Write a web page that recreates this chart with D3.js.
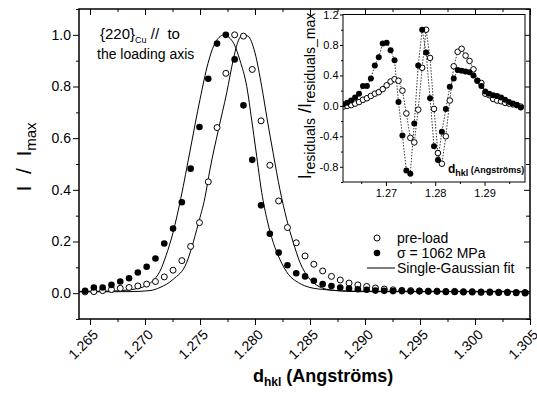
<!DOCTYPE html>
<html><head><meta charset="utf-8">
<script src="https://cdn.jsdelivr.net/npm/d3@7"></script>
<style>
body{margin:0;background:#fff}
svg{display:block}
text{font-family:Arial,"Liberation Sans",sans-serif;fill:#000;white-space:pre}
</style>
</head><body><svg id="c" width="537" height="393"></svg>
<script>
// ---------- data ----------
const dMain=[1.26455,1.26535,1.26615,1.26695,1.26775,1.26855,1.26935,1.27015,1.27095,1.27175,
1.27255,1.27335,1.27415,1.27495,1.27575,1.27655,1.27735,1.27815,1.27895,1.27975,
1.28055,1.28135,1.28215,1.28295,1.28375,1.28455,1.28535,1.28615,1.28695,1.28775,
1.28855,1.28935,1.29015,1.29095,1.29175,1.29255,1.29335,1.29415,1.29495,1.29575,
1.29655,1.29735,1.29815,1.29895,1.29975,1.30055,1.30135,1.30215,1.30295,1.30375,1.30455];
const preLoad=[0.005,0.006,0.010,0.014,0.019,0.022,0.028,0.035,0.045,0.063,
0.089,0.126,0.181,0.273,0.431,0.641,0.851,1.0,0.995,0.866,
0.667,0.495,0.357,0.254,0.195,0.144,0.112,0.086,0.065,0.051,
0.039,0.032,0.026,0.020,0.016,0.013,0.011,0.010,0.009,0.008,
0.008,0.007,0.007,0.006,0.006,0.005,0.005,0.004,0.004,0.003,0.003];
const loaded1062=[0.009,0.022,0.022,0.032,0.045,0.058,0.080,0.102,0.134,0.192,
0.250,0.352,0.482,0.643,0.830,0.966,1.0,0.905,0.727,0.516,
0.340,0.230,0.157,0.108,0.077,0.065,0.048,0.035,0.028,0.022,
0.018,0.015,0.013,0.010,0.009,0.008,0.008,0.007,0.007,0.006,
0.006,0.005,0.005,0.004,0.004,0.003,0.003,0.002,0.002,0.001,0.000];
const fitLoadedD=[1.2640,1.26682,1.26818,1.26909,1.27000,1.27064,1.27136,1.27191,1.27255,1.27327,
1.27409,1.27500,1.27573,1.27627,1.27673,1.27718,1.27764,1.27809,1.27864,1.27925,
1.27970,1.28009,1.28061,1.28112,1.28166,1.28227,1.28303,1.28394,1.28500,1.28652,
1.28864,1.29318,1.3050];
const fitLoadedV=[0.007,0.008,0.011,0.016,0.027,0.045,0.085,0.145,0.235,0.37,
0.55,0.75,0.89,0.96,0.99,1.0,0.99,0.965,0.9,0.80,
0.67,0.55,0.39,0.28,0.196,0.13,0.073,0.041,0.022,0.013,
0.008,0.007,0.007];
const fitPreD=[1.2640,1.26864,1.27045,1.27136,1.27257,1.27379,1.27427,1.27485,1.27545,1.27591,
1.27666,1.27743,1.27803,1.27848,1.27891,1.27936,1.28000,1.28061,1.28112,1.28166,
1.28227,1.28288,1.28348,1.28409,1.28485,1.28561,1.28652,1.28773,1.28955,1.3050];
const fitPreV=[0.005,0.006,0.010,0.022,0.054,0.119,0.18,0.27,0.37,0.48,
0.63,0.776,0.905,0.977,1.0,0.995,0.93,0.80,0.67,0.54,
0.40,0.286,0.196,0.119,0.061,0.031,0.015,0.009,0.006,0.005];
const dResid=[1.26135,1.26215,1.26295,1.26375,1.26455,1.26535,1.26615,1.26695,1.26775,1.26855,
1.26935,1.27015,1.27095,1.27175,1.27255,1.27335,1.27415,1.27495,1.27575,1.27655,
1.27735,1.27815,1.27895,1.27975,1.28055,1.28135,1.28215,1.28295,1.28375,1.28455,
1.28535,1.28615,1.28695,1.28775,1.28855,1.28935,1.29015,1.29095,1.29175,1.29255,
1.29335,1.29415,1.29495,1.29575,1.29655,1.29735];
const residPre=[-0.01,0.00,0.01,0.03,0.05,0.08,0.10,0.13,0.16,0.18,
0.22,0.27,0.32,0.35,0.33,0.20,-0.10,-0.42,-0.48,-0.05,
0.50,1.0,0.63,-0.04,-0.62,-0.76,-0.40,0.07,0.52,0.71,
0.75,0.66,0.59,0.48,0.33,0.30,0.16,0.14,0.09,0.07,
0.06,0.04,0.03,0.02,0.01,-0.01];
const residLoaded=[0.02,0.04,0.07,0.11,0.16,0.26,0.26,0.36,0.53,0.64,
0.82,0.83,0.73,0.60,0.05,-0.39,-0.85,-0.89,-0.23,0.53,
1.0,0.70,0.10,-0.53,-0.71,-0.34,-0.04,0.25,0.36,0.47,
0.46,0.45,0.44,0.40,0.33,0.26,0.19,0.16,0.14,0.13,
0.11,0.08,0.05,0.03,0.01,-0.02];
const xTicksMain=[1.265,1.270,1.275,1.280,1.285,1.290,1.295,1.300,1.305];
const xMinorMain=[1.2675,1.2725,1.2775,1.2825,1.2875,1.2925,1.2975,1.3025];
const yTicksMain=[0,0.2,0.4,0.6,0.8,1.0];
const yMinorMain=[-0.1,0.1,0.3,0.5,0.7,0.9,1.1];
const xTicksInset=[1.27,1.28,1.29];
const xMinorInset=[1.265,1.275,1.285,1.295];
const yTicksInset=[-0.8,-0.4,0,0.4,0.8,1.2];
const yMinorInset=[-1.0,-0.6,-0.2,0.2,0.6,1.0];
const legendLabels=["pre-load","\u03c3 = 1062 MPa","Single-Gaussian fit"];

// ---------- main chart ----------
const svg=d3.select("#c");
const L=79,R=530,T=9,B=319;
const x=d3.scaleLinear().domain([1.264,1.305]).range([L,R]);
const y=d3.scaleLinear().domain([-0.1,1.1]).range([B,T]);

svg.append("defs").append("clipPath").attr("id","clipMain")
  .append("rect").attr("x",L).attr("y",T).attr("width",R-L).attr("height",B-T);

function styleAxis(g,fs){
  g.attr("font-family",null).attr("font-size",null);
  g.select(".domain").remove();
  g.selectAll("line").attr("stroke","#000").attr("stroke-width",1);
  g.selectAll("text").style("font-size",fs+"px");
}
// bottom
svg.append("g").attr("transform",`translate(0,${B})`)
  .call(d3.axisBottom(x).tickValues(xTicksMain).tickSize(6).tickFormat(d3.format(".3f")))
  .call(g=>styleAxis(g,14))
  .call(g=>g.selectAll("text").attr("x",0).attr("y",0).attr("dy","0.35em")
      .attr("text-anchor","end").attr("transform","translate(5,13) rotate(-45)"));
svg.append("g").attr("transform",`translate(0,${B})`)
  .call(d3.axisBottom(x).tickValues(xMinorMain).tickSize(3).tickFormat(""))
  .call(g=>styleAxis(g,14));
// top (inward)
svg.append("g").attr("transform",`translate(0,${T})`)
  .call(d3.axisTop(x).tickValues(xTicksMain).tickSize(-6).tickFormat(""))
  .call(g=>styleAxis(g,14));
svg.append("g").attr("transform",`translate(0,${T})`)
  .call(d3.axisTop(x).tickValues(xMinorMain).tickSize(-3).tickFormat(""))
  .call(g=>styleAxis(g,14));
// left
svg.append("g").attr("transform",`translate(${L},0)`)
  .call(d3.axisLeft(y).tickValues(yTicksMain).tickSize(6).tickPadding(2).tickFormat(d3.format(".1f")))
  .call(g=>styleAxis(g,14));
svg.append("g").attr("transform",`translate(${L},0)`)
  .call(d3.axisLeft(y).tickValues(yMinorMain).tickSize(3).tickFormat(""))
  .call(g=>styleAxis(g,14));
// right (inward)
svg.append("g").attr("transform",`translate(${R},0)`)
  .call(d3.axisRight(y).tickValues(yTicksMain).tickSize(-6).tickFormat(""))
  .call(g=>styleAxis(g,14));
svg.append("g").attr("transform",`translate(${R},0)`)
  .call(d3.axisRight(y).tickValues(yMinorMain).tickSize(-4).tickFormat(""))
  .call(g=>styleAxis(g,14));

svg.append("rect").attr("x",L).attr("y",T).attr("width",R-L).attr("height",B-T)
  .attr("fill","none").attr("stroke","#000").attr("stroke-width",1.5);

const plot=svg.append("g").attr("clip-path","url(#clipMain)");
const line=d3.line().x(d=>x(d[0])).y(d=>y(d[1])).curve(d3.curveMonotoneX);
plot.append("path").datum(fitLoadedD.map((d,i)=>[d,fitLoadedV[i]]))
  .attr("d",line).attr("fill","none").attr("stroke","#000").attr("stroke-width",1);
plot.append("path").datum(fitPreD.map((d,i)=>[d,fitPreV[i]]))
  .attr("d",line).attr("fill","none").attr("stroke","#000").attr("stroke-width",1);
plot.selectAll("circle.pre").data(dMain.map((d,i)=>[d,preLoad[i]])).join("circle")
  .attr("class","pre").attr("cx",d=>x(d[0])).attr("cy",d=>y(d[1])).attr("r",3)
  .attr("fill","#fff").attr("stroke","#000").attr("stroke-width",1);
plot.selectAll("circle.ld").data(dMain.map((d,i)=>[d,loaded1062[i]])).join("circle")
  .attr("class","ld").attr("cx",d=>x(d[0])).attr("cy",d=>y(d[1])).attr("r",3.3)
  .attr("fill","#000");

// axis titles
const yl=svg.append("text").attr("transform","translate(31,157) rotate(-90)")
  .attr("text-anchor","middle").style("font-size","21px");
yl.append("tspan").text("I  /  I");
yl.append("tspan").attr("dy",5).style("font-size","15px").text("max");

const xl=svg.append("text").attr("x",253).attr("y",382).style("font-weight","bold").style("font-size","18px");
xl.append("tspan").text("d");
xl.append("tspan").attr("dy",4).style("font-size","12px").text("hkl");
xl.append("tspan").attr("dy",-4).text(" (Angstr\u00f6ms)");

// annotation
const an=svg.append("text").attr("x",100).attr("y",39).style("font-size","15px");
an.append("tspan").text("{220}");
an.append("tspan").attr("dy",4).style("font-size","9px").text("Cu");
an.append("tspan").attr("dy",-4).text(" //  to");
svg.append("text").attr("x",97).attr("y",59).style("font-size","14px").text("the loading axis");

// legend
const lg=svg.append("g");
lg.append("circle").attr("cx",377).attr("cy",238).attr("r",3).attr("fill","#fff").attr("stroke","#000");
lg.append("circle").attr("cx",377).attr("cy",253).attr("r",3.3).attr("fill","#000");
lg.append("line").attr("x1",367).attr("x2",395).attr("y1",268).attr("y2",268).attr("stroke","#000");
legendLabels.forEach((t,i)=>{
  lg.append("text").attr("x",397).attr("y",238+15*i).attr("dy","0.35em").style("font-size","14px").text(t);
});

// ---------- inset ----------
const iL=343,iR=525,iT=14.5,iB=182;
const xi=d3.scaleLinear().domain([1.2613,1.2982]).range([iL,iR]);
const yi=d3.scaleLinear().domain([-1,1.2]).range([iB,iT]);
svg.append("rect").attr("x",iL).attr("y",iT).attr("width",iR-iL).attr("height",iB-iT)
  .attr("fill","#fff").attr("stroke","none");
svg.select("defs").append("clipPath").attr("id","clipInset")
  .append("rect").attr("x",iL).attr("y",iT).attr("width",iR-iL).attr("height",iB-iT);

svg.append("g").attr("transform",`translate(0,${iB})`)
  .call(d3.axisBottom(xi).tickValues(xTicksInset).tickSize(4).tickPadding(3).tickFormat(d=>d.toFixed(2)))
  .call(g=>styleAxis(g,11));
svg.append("g").attr("transform",`translate(0,${iB})`)
  .call(d3.axisBottom(xi).tickValues(xMinorInset).tickSize(2).tickFormat(""))
  .call(g=>styleAxis(g,11));
svg.append("g").attr("transform",`translate(${iL},0)`)
  .call(d3.axisLeft(yi).tickValues(yTicksInset).tickSize(3).tickPadding(1.5).tickFormat(d=>d.toFixed(1)))
  .call(g=>styleAxis(g,11));
svg.append("g").attr("transform",`translate(${iL},0)`)
  .call(d3.axisLeft(yi).tickValues(yMinorInset).tickSize(2).tickFormat(""))
  .call(g=>styleAxis(g,11));

const ip=svg.append("g").attr("clip-path","url(#clipInset)");
const iline=d3.line().x(d=>xi(d[0])).y(d=>yi(d[1]));
const preR=dResid.map((d,i)=>[d,residPre[i]]);
const ldR=dResid.map((d,i)=>[d,residLoaded[i]]);
[preR,ldR].forEach(s=>ip.append("path").datum(s).attr("d",iline).attr("fill","none")
  .attr("stroke","#000").attr("stroke-width",0.8).attr("stroke-dasharray","1.5,1.5"));
ip.selectAll("circle.ipre").data(preR).join("circle").attr("class","ipre")
  .attr("cx",d=>xi(d[0])).attr("cy",d=>yi(d[1])).attr("r",2.8)
  .attr("fill","#fff").attr("stroke","#000").attr("stroke-width",1);
ip.selectAll("circle.ild").data(ldR).join("circle").attr("class","ild")
  .attr("cx",d=>xi(d[0])).attr("cy",d=>yi(d[1])).attr("r",3)
  .attr("fill","#000");

svg.append("rect").attr("x",iL).attr("y",iT).attr("width",iR-iL).attr("height",iB-iT)
  .attr("fill","none").attr("stroke","#000").attr("stroke-width",1);

const it=svg.append("text").attr("x",448).attr("y",173).style("font-weight","bold").style("font-size","12px");
it.append("tspan").text("d");
it.append("tspan").attr("dy",3).style("font-size","9px").text("hkl");
it.append("tspan").attr("dy",-3).style("font-size","9px").text(" (Angstr\u00f6ms)");

const iy=svg.append("text").attr("transform","translate(311,96) rotate(-90)")
  .attr("text-anchor","middle").style("font-size","18px");
iy.append("tspan").text("I");
iy.append("tspan").attr("dy",4).style("font-size","14px").text("residuals");
iy.append("tspan").attr("dy",-4).text(" /I");
iy.append("tspan").attr("dy",4).style("font-size","14px").text("residuals_max");
</script>
</body></html>
